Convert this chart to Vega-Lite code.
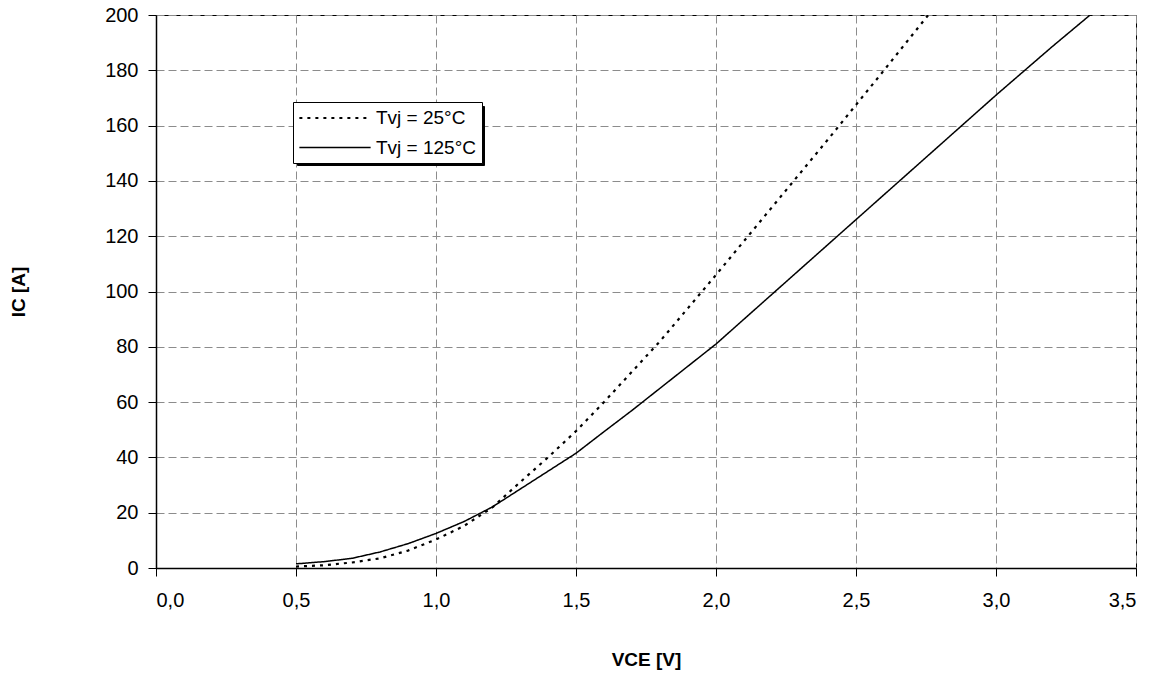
{
  "$schema": "https://vega.github.io/schema/vega-lite/v6.json",
  "width": 980,
  "height": 553,
  "autosize": {"type": "none"},
  "padding": {"left": 156, "top": 15, "right": 22, "bottom": 113},
  "background": "white",
  "config": {
    "font": "Liberation Sans",
    "view": {"stroke": "#000000", "strokeWidth": 1},
    "axis": {
      "labelFont": "Liberation Sans",
      "labelFontSize": 20,
      "labelColor": "#000000",
      "titleFont": "Liberation Sans",
      "titleFontSize": 19,
      "titleFontWeight": "bold",
      "titleColor": "#000000",
      "domainColor": "#000000",
      "domainWidth": 1.5,
      "tickColor": "#000000",
      "tickSize": 8,
      "gridColor": "#8c8c8c",
      "gridDash": [8, 4],
      "gridWidth": 1,
      "gridOpacity": 1
    }
  },
  "data": {
    "values": [
      {"v": 0.5, "i": 0.5, "s": "Tvj = 25°C"},
      {"v": 0.6, "i": 1.0, "s": "Tvj = 25°C"},
      {"v": 0.7, "i": 2.0, "s": "Tvj = 25°C"},
      {"v": 0.8, "i": 3.5, "s": "Tvj = 25°C"},
      {"v": 0.9, "i": 6.3, "s": "Tvj = 25°C"},
      {"v": 1.0, "i": 10.3, "s": "Tvj = 25°C"},
      {"v": 1.1, "i": 15.2, "s": "Tvj = 25°C"},
      {"v": 1.2, "i": 21.8, "s": "Tvj = 25°C"},
      {"v": 1.3, "i": 31.0, "s": "Tvj = 25°C"},
      {"v": 1.4, "i": 40.0, "s": "Tvj = 25°C"},
      {"v": 1.5, "i": 49.5, "s": "Tvj = 25°C"},
      {"v": 1.6, "i": 60.0, "s": "Tvj = 25°C"},
      {"v": 1.7, "i": 71.0, "s": "Tvj = 25°C"},
      {"v": 1.8, "i": 82.0, "s": "Tvj = 25°C"},
      {"v": 1.9, "i": 94.0, "s": "Tvj = 25°C"},
      {"v": 2.0, "i": 106.0, "s": "Tvj = 25°C"},
      {"v": 2.2, "i": 130.5, "s": "Tvj = 25°C"},
      {"v": 2.4, "i": 155.0, "s": "Tvj = 25°C"},
      {"v": 2.6, "i": 180.0, "s": "Tvj = 25°C"},
      {"v": 2.758, "i": 200.0, "s": "Tvj = 25°C"},
      {"v": 0.5, "i": 1.5, "s": "Tvj = 125°C"},
      {"v": 0.6, "i": 2.3, "s": "Tvj = 125°C"},
      {"v": 0.7, "i": 3.5, "s": "Tvj = 125°C"},
      {"v": 0.8, "i": 5.8, "s": "Tvj = 125°C"},
      {"v": 0.9, "i": 8.8, "s": "Tvj = 125°C"},
      {"v": 1.0, "i": 12.5, "s": "Tvj = 125°C"},
      {"v": 1.1, "i": 16.8, "s": "Tvj = 125°C"},
      {"v": 1.2, "i": 22.0, "s": "Tvj = 125°C"},
      {"v": 1.3, "i": 28.5, "s": "Tvj = 125°C"},
      {"v": 1.4, "i": 35.0, "s": "Tvj = 125°C"},
      {"v": 1.5, "i": 41.5, "s": "Tvj = 125°C"},
      {"v": 1.6, "i": 49.3, "s": "Tvj = 125°C"},
      {"v": 1.7, "i": 57.0, "s": "Tvj = 125°C"},
      {"v": 1.8, "i": 65.0, "s": "Tvj = 125°C"},
      {"v": 1.9, "i": 73.0, "s": "Tvj = 125°C"},
      {"v": 2.0, "i": 81.0, "s": "Tvj = 125°C"},
      {"v": 2.2, "i": 99.0, "s": "Tvj = 125°C"},
      {"v": 2.4, "i": 117.0, "s": "Tvj = 125°C"},
      {"v": 2.6, "i": 135.0, "s": "Tvj = 125°C"},
      {"v": 2.8, "i": 153.0, "s": "Tvj = 125°C"},
      {"v": 3.0, "i": 171.0, "s": "Tvj = 125°C"},
      {"v": 3.2, "i": 188.5, "s": "Tvj = 125°C"},
      {"v": 3.336, "i": 200.0, "s": "Tvj = 125°C"}
    ]
  },
  "mark": {"type": "line", "color": "#000000", "clip": true},
  "encoding": {
    "x": {
      "field": "v",
      "type": "quantitative",
      "scale": {"domain": [0, 3.5], "nice": false, "zero": false},
      "axis": {
        "title": "VCE [V]",
        "values": [0, 0.5, 1, 1.5, 2, 2.5, 3, 3.5],
        "labelExpr": "replace(format(datum.value, '.1f'), '.', ',')",
        "labelPadding": 14,
        "titlePadding": 40
      }
    },
    "y": {
      "field": "i",
      "type": "quantitative",
      "scale": {"domain": [0, 200], "nice": false},
      "axis": {
        "title": "IC [A]",
        "values": [0, 20, 40, 60, 80, 100, 120, 140, 160, 180, 200],
        "labelPadding": 10,
        "titlePadding": 76
      }
    },
    "opacity": {
      "field": "s",
      "type": "nominal",
      "scale": {"domain": ["Tvj = 125°C", "Tvj = 25°C"], "range": [1, 1]},
      "legend": {
        "title": null,
        "orient": "none",
        "legendX": 141,
        "legendY": 91,
        "fillColor": "#000000",
        "strokeColor": "#000000",
        "padding": 5,
        "rowPadding": 9,
        "symbolType": "M-3.75,0H3.75",
        "symbolSize": 361,
        "symbolOffset": 26,
        "symbolStrokeColor": "#000000",
        "symbolStrokeWidth": 1,
        "labelExpr": "''",
        "labelOffset": 131,
        "labelFont": "Liberation Sans",
        "labelFontSize": 19,
        "labelColor": "#000000",
        "zindex": 0
      }
    },
    "strokeDash": {
      "field": "s",
      "type": "nominal",
      "scale": {"domain": ["Tvj = 25°C", "Tvj = 125°C"], "range": [[3, 5], [1, 0]]},
      "legend": {
        "title": null,
        "orient": "none",
        "legendX": 137,
        "legendY": 87,
        "fillColor": "#ffffff",
        "strokeColor": "#000000",
        "padding": 5,
        "rowPadding": 9,
        "symbolType": "M-3.75,0H3.75",
        "symbolSize": 361,
        "symbolOffset": 26,
        "symbolStrokeColor": "#000000",
        "symbolStrokeWidth": 1.5,
        "labelOffset": 30,
        "labelFont": "Liberation Sans",
        "labelFontSize": 19,
        "labelColor": "#000000",
        "zindex": 1
      }
    },
    "strokeWidth": {
      "field": "s",
      "type": "nominal",
      "scale": {"domain": ["Tvj = 25°C", "Tvj = 125°C"], "range": [2.2, 1.5]},
      "legend": null
    }
  }
}
